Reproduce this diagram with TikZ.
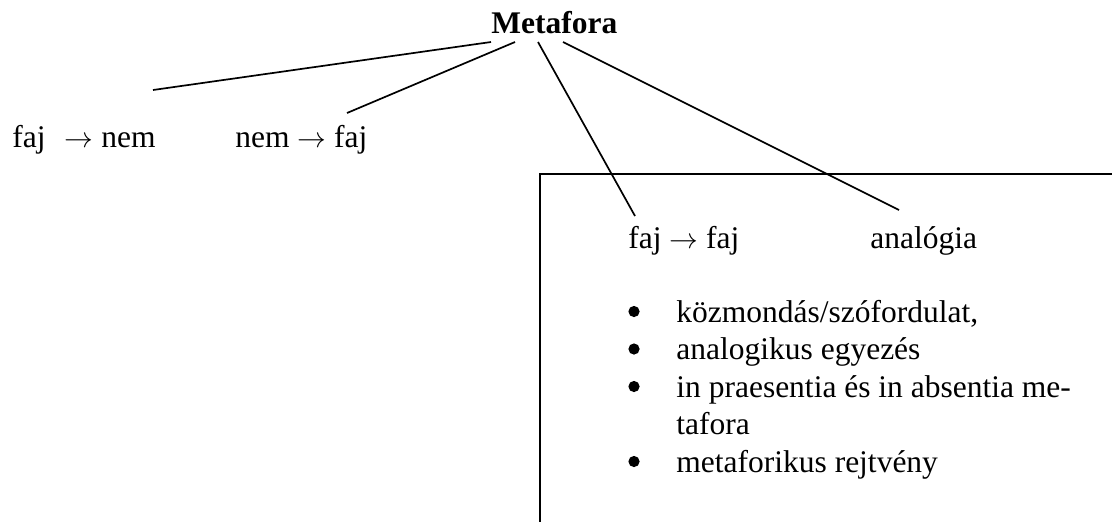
\documentclass[tikz,border=0pt]{standalone}
\usepackage{fontspec}
\setmainfont{Liberation Serif}
\begin{document}
\begin{tikzpicture}[x=0.5pt,y=-0.5pt,
  lbl/.style={anchor=base west, inner sep=0pt, font=\fontsize{15.75}{18}\selectfont},
  head/.style={anchor=base west, inner sep=0pt, font=\fontsize{15.75}{18}\selectfont\bfseries},
  dot/.style={circle, fill=black, inner sep=0pt, minimum size=5.6pt},
  link/.style={line width=0.85pt},
  frame/.style={line width=1.3pt}]
\useasboundingbox (0,0) rectangle (1112,521);

% title
\node[head] (meta) at (491,33) {Metafora};

% first level
\node[lbl] (fn) at (12,147) {faj\hspace{9.5pt}$\rightarrow$\hspace{4pt}nem};
\node[lbl] (nf) at (235,147) {nem $\rightarrow$ faj};

% framed part
\draw[frame] (1116,174) -- (540,174) -- (540,525);
\node[lbl] (ff) at (628,248) {faj $\rightarrow$ faj};
\node[lbl] (an) at (870,248) {analógia};

% bulleted list
\foreach \y/\n in {322/b1,359.5/b2,397/b3,472/b5}
  \node[dot] (\n) at (634,\y-10.5) {};
\node[lbl] (i1) at (676,322) {közmondás/szófordulat,};
\node[lbl] (i2) at (676,359.5) {analogikus egyezés};
\node[lbl] (i3) at (676,397) {in praesentia és in absentia me-};
\node[lbl] (i3b) at (676,434.5) {tafora};
\node[lbl] (i5) at (676,472) {metaforikus rejtvény};

% branch ends
\coordinate (m1) at (491,42);
\coordinate (m2) at (515,42);
\coordinate (m3) at (538,42);
\coordinate (m4) at (563,42);
\coordinate (e1) at (153,90);
\coordinate (e2) at (347,113);
\coordinate (e3) at (635,216);
\coordinate (e4) at (899,210);

\draw[link] (m1) -- (e1);
\draw[link] (m2) -- (e2);
\draw[link] (m3) -- (e3);
\draw[link] (m4) -- (e4);
\end{tikzpicture}
\end{document}
